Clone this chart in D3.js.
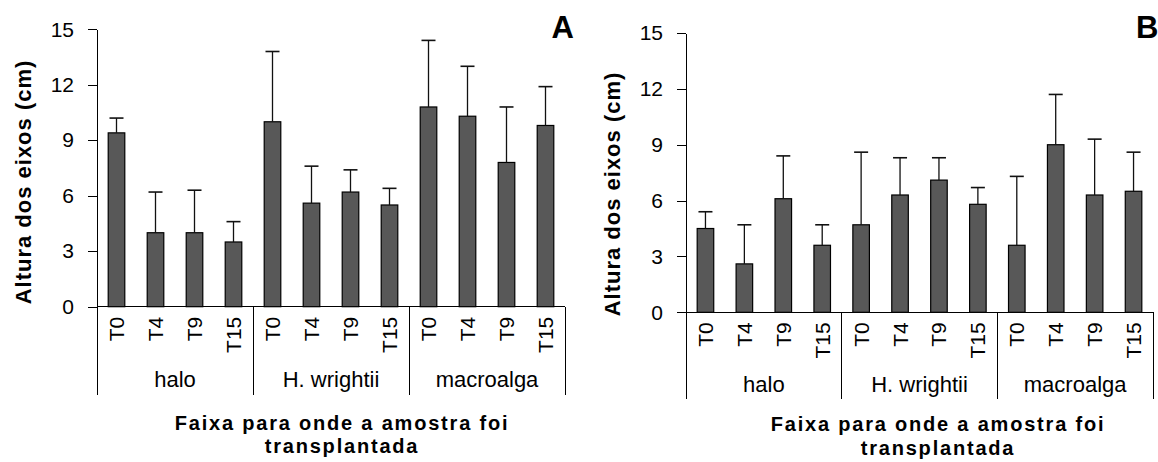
<!DOCTYPE html>
<html>
<head>
<meta charset="utf-8">
<script src="https://cdn.jsdelivr.net/npm/d3@7"></script>
<style>
  body { margin: 0; background: #fff; }
  text { font-family: "Liberation Sans", Arial, sans-serif; }
</style>
</head>
<body>
<div id="chart"></div>
<script>
// Values
const groups = ["halo", "H. wrightii", "macroalga"];
const times = ["T0", "T4", "T9", "T15"];
const yTicks = [0, 3, 6, 9, 12, 15];

// Panel A: mean and standard deviation (cm)
const meansA = [9.4, 4.0, 4.0, 3.5, 10.0, 5.6, 6.2, 5.5, 10.8, 10.3, 7.8, 9.8];
const sdA = [0.8, 2.2, 2.3, 1.1, 3.8, 2.0, 1.2, 0.9, 3.6, 2.7, 3.0, 2.1];

// Panel B
const meansB = [4.5, 2.6, 6.1, 3.6, 4.7, 6.3, 7.1, 5.8, 3.6, 9.0, 6.3, 6.5];
const sdB = [0.9, 2.1, 2.3, 1.1, 3.9, 2.0, 1.2, 0.9, 3.7, 2.7, 3.0, 2.1];

const yTitle = "Altura dos eixos (cm)";
const xTitle = ["Faixa para onde a amostra foi", "transplantada"];

const svg = d3.select("#chart")
    .append("svg")
    .attr("width", 1158)
    .attr("height", 462);

/**
 * Draw one bar panel with error bars and grouped category axis.
 */
function drawPanel(p, means, sds) {
    const rows = [];
    groups.forEach((g, gi) => times.forEach((t, ti) => {
        const i = gi * times.length + ti;
        rows.push({ key: g + "|" + t, group: g, time: t, mean: means[i], sd: sds[i] });
    }));

    const x = d3.scaleBand()
        .domain(rows.map(d => d.key))
        .range([p.left, p.right])
        .paddingInner(0.575)
        .paddingOuter(0.2875);
    const y = d3.scaleLinear()
        .domain([0, 15])
        .range([p.bottom, p.top]);

    const gap = (x.step() - x.bandwidth()) / 2;

    // Y axis
    const yAxis = svg.append("g")
        .attr("transform", `translate(${p.left},0)`)
        .call(d3.axisLeft(y).tickValues(yTicks).tickSize(9).tickSizeOuter(0).tickPadding(14));
    yAxis.selectAll("path, line").attr("stroke", "#000").attr("shape-rendering", "crispEdges");
    yAxis.selectAll("text")
        .attr("font-size", 21)
        .attr("font-family", "'Liberation Sans', Arial, sans-serif")
        .attr("fill", "#000");

    // X axis line
    svg.append("line")
        .attr("x1", p.left).attr("x2", p.right)
        .attr("y1", y(0)).attr("y2", y(0))
        .attr("stroke", "#000")
        .attr("shape-rendering", "crispEdges");

    // Bars
    svg.append("g")
        .selectAll("rect")
        .data(rows)
        .enter()
        .append("rect")
        .attr("x", d => x(d.key))
        .attr("y", d => y(d.mean))
        .attr("width", x.bandwidth())
        .attr("height", d => y(0) - y(d.mean))
        .attr("fill", "#585858")
        .attr("stroke", "#000")
        .attr("stroke-width", 1.2);

    // Error bars
    const err = svg.append("g").attr("stroke", "#111").attr("stroke-width", 1.3);
    rows.forEach(d => {
        const cx = x(d.key) + x.bandwidth() / 2;
        err.append("line")
            .attr("x1", cx).attr("x2", cx)
            .attr("y1", y(d.mean)).attr("y2", y(d.mean + d.sd));
        err.append("line")
            .attr("x1", cx - 7).attr("x2", cx + 7)
            .attr("y1", y(d.mean + d.sd)).attr("y2", y(d.mean + d.sd))
            .attr("stroke-width", 1.6);
    });

    // Time labels, rotated
    svg.append("g")
        .selectAll("text")
        .data(rows)
        .enter()
        .append("text")
        .attr("transform", d =>
            `translate(${x(d.key) + x.bandwidth() / 2 + 7.5},${y(0) + 10}) rotate(-90)`)
        .attr("text-anchor", "end")
        .attr("font-size", 21)
        .text(d => d.time);

    // Group separators and labels
    groups.forEach((g, gi) => {
        const first = rows[gi * times.length];
        const last = rows[gi * times.length + times.length - 1];
        const x0 = x(first.key) - gap;
        const x1 = x(last.key) + x.bandwidth() + gap;
        [x0, x1].forEach(xx => svg.append("line")
            .attr("x1", xx).attr("x2", xx)
            .attr("y1", y(0)).attr("y2", y(0) + p.sepLen)
            .attr("stroke", "#000")
            .attr("shape-rendering", "crispEdges"));
        svg.append("text")
            .attr("x", (x0 + x1) / 2)
            .attr("y", y(0) + p.groupDy)
            .attr("text-anchor", "middle")
            .attr("font-size", 22)
            .text(g);
    });

    // Axis titles
    svg.append("text")
        .attr("transform", `translate(${p.yTitleX},${p.yTitleY}) rotate(-90)`)
        .attr("text-anchor", "middle")
        .attr("font-size", 22)
        .attr("font-weight", "bold")
        .attr("letter-spacing", 1)
        .text(yTitle);

    xTitle.forEach((line, li) => {
        svg.append("text")
            .attr("x", p.xTitleX)
            .attr("y", p.xTitleY[li])
            .attr("text-anchor", "middle")
            .attr("font-size", 20)
            .attr("font-weight", "bold")
            .attr("letter-spacing", 1.8)
            .text(line);
    });

    // Panel letter
    svg.append("text")
        .attr("x", p.letterX)
        .attr("y", 38)
        .attr("text-anchor", p.letterAnchor)
        .attr("font-size", 31)
        .attr("font-weight", "bold")
        .text(p.letter);
}

drawPanel({
    left: 97, right: 565, top: 29.3, bottom: 306.7,
    sepLen: 88, groupDy: 80,
    yTitleX: 31, yTitleY: 182,
    xTitleX: 342, xTitleY: [430, 453],
    letter: "A", letterX: 574, letterAnchor: "end"
}, meansA, sdA);

drawPanel({
    left: 686, right: 1153, top: 33, bottom: 312.3,
    sepLen: 87, groupDy: 79.5,
    yTitleX: 620, yTitleY: 194,
    xTitleX: 938, xTitleY: [431, 455],
    letter: "B", letterX: 1136, letterAnchor: "start"
}, meansB, sdB);
</script>
</body>
</html>
